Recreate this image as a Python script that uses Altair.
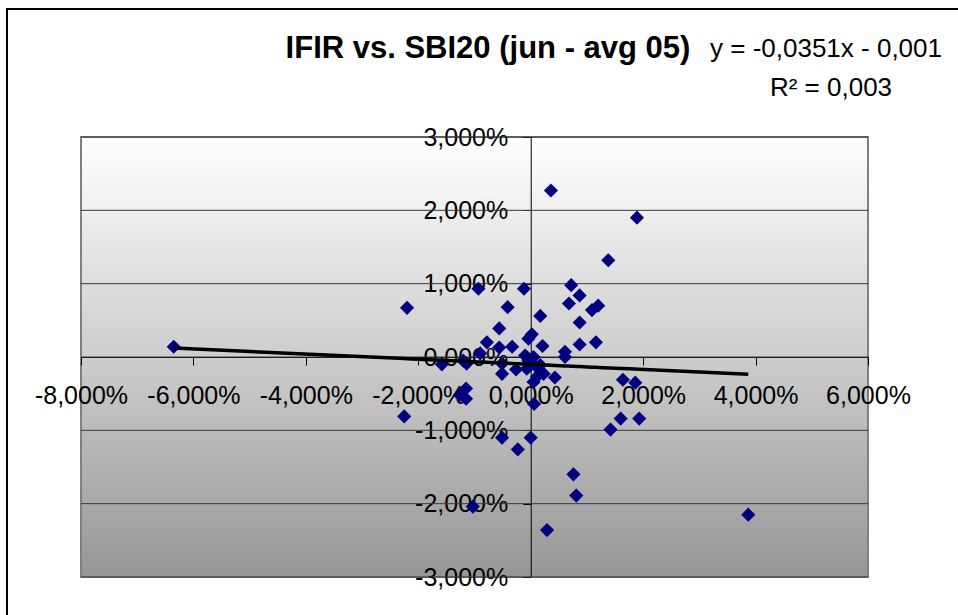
import altair as alt
import pandas as pd

# Scatter data (percent units)
sbi20 = [-6.35, -2.20, -2.25, -0.93, -0.12, 0.36, 1.89, 1.38, 0.72, 0.87,
         0.68, -0.41, 1.09, 1.20, 0.17, 0.87, -0.56, 0.02, -0.04, -0.78,
         0.87, 1.16, 0.21, -0.33, -0.56, 0.61, 0.61, -0.90, -0.10, 0.05,
         -0.04, -1.58, -1.20, -1.14, -0.51, -0.51, -0.26, -0.07, 0.17, 0.23,
         0.11, 0.05, 0.43, 1.64, 1.86, -1.15, -1.15, -1.26, 0.06, -0.51,
         -0.23, 0.00, 1.42, 1.60, 1.93, 0.76, 0.81, -1.03, 0.29, 3.87,
         -0.07, 0.11]
ifir = [0.14, 0.67, -0.81, 0.93, 0.93, 2.27, 1.90, 1.32, 0.98, 0.84,
        0.73, 0.68, 0.64, 0.70, 0.56, 0.47, 0.39, 0.31, 0.25, 0.20,
        0.17, 0.20, 0.15, 0.14, 0.13, 0.07, 0.00, 0.05, 0.02, 0.00,
        -0.05, -0.10, -0.05, -0.09, -0.09, -0.23, -0.17, -0.16, -0.11, -0.23,
        -0.27, -0.34, -0.28, -0.31, -0.35, -0.43, -0.57, -0.52, -0.64, -1.10,
        -1.26, -1.10, -0.99, -0.84, -0.84, -1.60, -1.89, -2.04, -2.36, -2.15,
        0.00, -0.14]

# Trendline as reported: y = -0,0351x - 0,001 (fraction units)
slope = -0.0351
intercept_pct = -0.001 * 100

x_ticks = [-8, -6, -4, -2, 0, 2, 4, 6]
y_ticks = [-3, -2, -1, 0, 1, 2, 3]

title_text = "IFIR vs. SBI20 (jun - avg 05)"
eq_text = "y = -0,0351x - 0,001"
r2_text = "R² = 0,003"

W, H = 787, 440
FONT = "Liberation Sans"

df = pd.DataFrame({"x": sbi20, "y": ifir})
grid_df = pd.DataFrame({"y": y_ticks})

label_expr = "(datum.value < 0 ? '-' : '') + replace(format(abs(datum.value), '.3f'), '.', ',') + '%'"

xscale = alt.Scale(domain=[-8, 6], nice=False, zero=False)
yscale = alt.Scale(domain=[-3, 3], nice=False, zero=False)

x_off = -(0 - (-8)) / 14 * W
y_off = -H / 2

gradient_expr = ("{gradient: 'linear', x1: 0, y1: 0, x2: 0, y2: 1, "
                 "stops: [{offset: 0, color: '#ffffff'}, {offset: 0.5, color: '#cdcdcd'}, "
                 "{offset: 1, color: '#969696'}]}")

grid = alt.Chart(grid_df).mark_rule(color="#3a3a3a", strokeWidth=1).encode(
    y=alt.Y("y:Q", scale=yscale)
)

points = alt.Chart(df).mark_point(
    shape="diamond", filled=True, color="#000080", size=200, opacity=1
).encode(
    x=alt.X("x:Q", scale=xscale,
            axis=alt.Axis(values=x_ticks, labelExpr=label_expr, offset=y_off,
                          grid=False, tickSize=8, tickColor="#000000",
                          domainColor="#000000", labelFont=FONT, labelFontSize=25,
                          labelColor="#000000", labelBaseline="alphabetic",
                          labelPadding=38, labelFlush=False, labelOverlap=False,
                          title=None)),
    y=alt.Y("y:Q", scale=yscale,
            axis=alt.Axis(values=y_ticks, labelExpr=label_expr, offset=x_off,
                          grid=False, tickSize=8, tickColor="#000000",
                          domainColor="#000000", labelFont=FONT, labelFontSize=25,
                          labelColor="#000000", labelBaseline="middle",
                          labelPadding=15, labelFlush=False, labelOverlap=False,
                          title=None)),
)

trend = alt.Chart(df).transform_calculate(
    fit=f"{slope} * datum.x + {intercept_pct}"
).mark_line(color="#000000", strokeWidth=3.5).encode(
    x=alt.X("x:Q", scale=xscale, sort="ascending"),
    y=alt.Y("fit:Q", scale=yscale),
)

one = pd.DataFrame({"a": [0]})
title = alt.Chart(one).mark_text(
    text=title_text, font=FONT, fontSize=31, fontWeight="bold",
    align="center", baseline="alphabetic", color="#000000"
).encode(x=alt.value(407), y=alt.value(-79))

eq = alt.Chart(one).mark_text(
    text=eq_text, font=FONT, fontSize=26, align="center",
    baseline="alphabetic", color="#000000"
).encode(x=alt.value(745), y=alt.value(-80))

r2 = alt.Chart(one).mark_text(
    text=r2_text, font=FONT, fontSize=26, align="center",
    baseline="alphabetic", color="#000000"
).encode(x=alt.value(750), y=alt.value(-41))

border_left = alt.Chart(one).mark_rule(color="#000000", strokeWidth=2).encode(
    x=alt.value(-74), y=alt.value(-128), y2=alt.value(480)
)
border_top = alt.Chart(one).mark_rule(color="#000000", strokeWidth=2).encode(
    x=alt.value(-75), x2=alt.value(880), y=alt.value(-128)
)

chart = alt.layer(
    grid, points, trend, title, eq, r2, border_left, border_top
).properties(
    width=W, height=H,
    autosize=alt.AutoSizeParams(type="none"),
    padding={"left": 81, "top": 137, "right": 90, "bottom": 38},
    background="#ffffff",
).configure_view(
    stroke="#808080", strokeWidth=2, fill=alt.ExprRef(expr=gradient_expr)
)

chart.save("out.html", embed_options={"renderer": "svg", "actions": False})
